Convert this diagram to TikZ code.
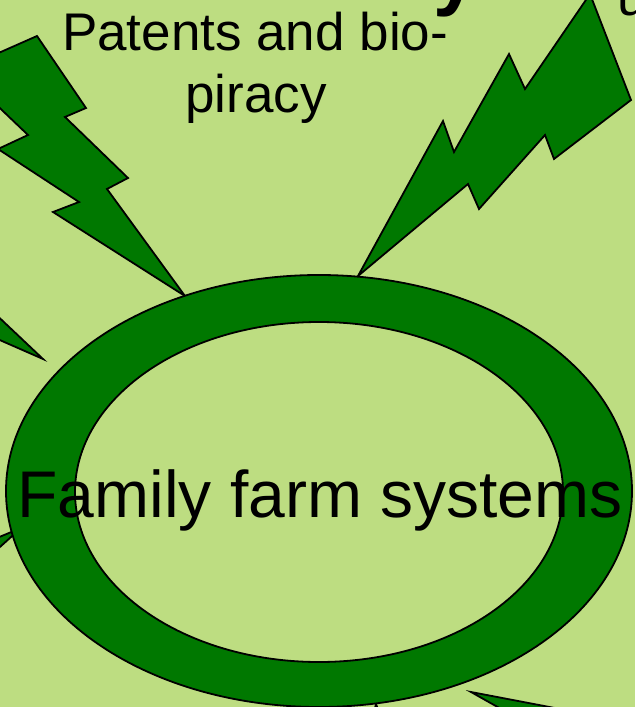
\documentclass[tikz,border=0pt]{standalone}
\usepackage{fontspec}
\setmainfont{Liberation Sans}
\definecolor{bg}{RGB}{189,221,129}
\definecolor{dg}{RGB}{0,120,0}
\begin{document}
\begin{tikzpicture}[x=1pt,y=-1pt,
  bolt/.style={fill=dg,draw=black,line width=1.8pt,line join=miter},
  ring/.style={fill=dg,draw=black,line width=1.8pt,even odd rule},
  lbl/.style={font=\fontsize{53}{62}\selectfont,inner sep=0,anchor=base},
  big/.style={font=\fontsize{66}{76}\selectfont,inner sep=0,anchor=base}]
\fill[bg] (0,0) rectangle (635,707);
\useasboundingbox (0,0) rectangle (635,707);
% title fragments at the top
\node[font=\fontsize{80}{90}\bfseries\selectfont,inner sep=0,anchor=base west] (ttl) at (433,0) {y};
\node[lbl,anchor=base west] (uu) at (617,15) {u};
% lightning bolts
\draw[bolt] (37,36) -- (86,108) -- (65,117) -- (128,178) -- (107,189) -- (185,296)
  -- (53,212) -- (79,202) -- (-2,149) -- (28,135) -- (-40,70) -- cycle;
\draw[bolt] (358,276) -- (443,121) -- (454,152) -- (509,54) -- (525,89) -- (590,-6)
  -- (631,100) -- (554,159) -- (545,135) -- (479,209) -- (468,184) -- cycle;
\draw[bolt] (43,359) -- (-30,290) -- (-30,327) -- cycle;
\draw[bolt] (21,528) -- (-20,545) -- (-20,565) -- cycle;
\draw[bolt] (471,692) -- (560,709) -- (510,714) -- cycle;
\draw[bolt] (376,704) -- (372,720) -- (382,720) -- cycle;
% ring
\path[ring] (319,491) ellipse [x radius=313pt, y radius=216pt]
            (319,492) ellipse [x radius=244pt, y radius=170pt];
% labels
\node[lbl] (pat1) at (255,50) {Patents and bio-};
\node[lbl] (pat2) at (256,112) {piracy};
\node[big] (fam) at (320,517) {Family farm systems};
\end{tikzpicture}
\end{document}
